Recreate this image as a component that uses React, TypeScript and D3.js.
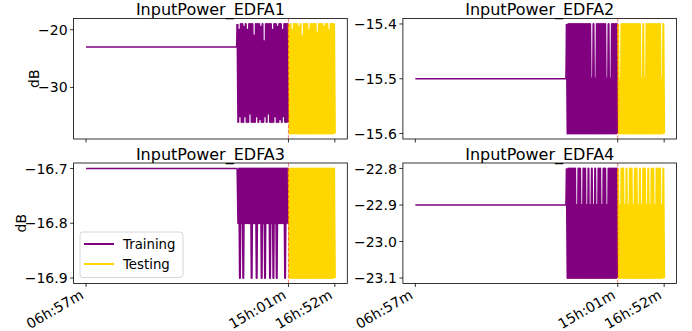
import React from 'react';
import * as d3 from 'd3';

// ---------------- data ----------------
const titles = ['InputPower_EDFA1', 'InputPower_EDFA2', 'InputPower_EDFA3', 'InputPower_EDFA4'];
const xTickTimes = [0, 484, 595]; // minutes after 06h:57m
const xTickLabels = ['06h:57m', '15h:01m', '16h:52m'];
const splitTime = 484;
const sparseTimes = [0, 60, 120, 180, 240, 300, 360];
const trainStart = 362;
const testStart = 485;
const sampleMinutes = 2;

const edfa1Sparse = [-23, -23, -23, -23, -23, -23, -23];
const edfa1Train = [
  -19, -36, -20, -35, -19, -36, -19, -36, -19.5, -35,
  -19, -36, -20, -36, -19, -34.5, -19, -36, -19, -36,
  -21, -36, -19, -35, -19, -36, -19, -35.5, -19.5, -36,
  -19, -36, -22, -35, -19, -36, -19, -34.5, -19, -36,
  -19, -36, -20, -36, -19, -35, -19, -36, -19.5, -36,
  -19, -35.5, -19, -36, -20, -35, -19, -36, -19, -36,
  -19, -36,
];
const edfa1Test = [
  -19, -38, -19, -38, -20, -38, -19, -38, -19, -38,
  -19, -38, -19.5, -38, -19, -38, -21, -38, -19, -38,
  -19, -38, -19, -38, -20, -38, -19, -38, -19, -38,
  -19, -38, -19, -38, -20.5, -38, -19, -38, -19, -38,
  -19, -38, -19.5, -38, -19, -38, -19, -38, -20, -38,
  -19, -38, -19, -38, -19, -38,
];

const edfa2Sparse = [-15.5, -15.5, -15.5, -15.5, -15.5, -15.5, -15.5];
const edfa2Train = [
  -15.4, -15.6, -15.4, -15.6, -15.4, -15.6, -15.4, -15.6, -15.4, -15.6,
  -15.4, -15.6, -15.4, -15.6, -15.4, -15.6, -15.4, -15.6, -15.4, -15.6,
  -15.4, -15.6, -15.4, -15.6, -15.4, -15.6, -15.4, -15.6, -15.4, -15.6,
  -15.5, -15.6, -15.4, -15.6, -15.5, -15.6, -15.4, -15.6, -15.4, -15.6,
  -15.4, -15.6, -15.4, -15.6, -15.4, -15.6, -15.4, -15.6, -15.5, -15.6,
  -15.4, -15.6, -15.5, -15.6, -15.4, -15.6, -15.4, -15.6, -15.4, -15.6,
  -15.4, -15.6,
];
const edfa2Test = [
  -15.4, -15.6, -15.5, -15.6, -15.4, -15.6, -15.4, -15.6, -15.4, -15.6,
  -15.4, -15.6, -15.4, -15.6, -15.4, -15.6, -15.4, -15.6, -15.4, -15.6,
  -15.4, -15.6, -15.4, -15.6, -15.4, -15.6, -15.4, -15.6, -15.5, -15.6,
  -15.4, -15.6, -15.5, -15.6, -15.4, -15.6, -15.4, -15.6, -15.4, -15.6,
  -15.4, -15.6, -15.4, -15.6, -15.4, -15.6, -15.4, -15.6, -15.4, -15.6,
  -15.4, -15.6, -15.5, -15.6, -15.4, -15.6,
];

const edfa3Sparse = [-16.7, -16.7, -16.7, -16.7, -16.7, -16.7, -16.7];
const edfa3Train = [
  -16.7, -16.8, -16.7, -16.9, -16.7, -16.8, -16.7, -16.9, -16.7, -16.8,
  -16.7, -16.8, -16.7, -16.8, -16.7, -16.8, -16.7, -16.9, -16.7, -16.8,
  -16.7, -16.8, -16.7, -16.9, -16.7, -16.8, -16.7, -16.8, -16.7, -16.9,
  -16.7, -16.8, -16.7, -16.9, -16.7, -16.8, -16.7, -16.8, -16.7, -16.9,
  -16.7, -16.8, -16.7, -16.9, -16.7, -16.8, -16.7, -16.9, -16.7, -16.8,
  -16.7, -16.8, -16.7, -16.8, -16.7, -16.8, -16.7, -16.9, -16.7, -16.8,
  -16.7, -16.8,
];
const edfa3Test = [
  -16.7, -16.9, -16.7, -16.9, -16.7, -16.9, -16.7, -16.9, -16.7, -16.9,
  -16.7, -16.9, -16.7, -16.9, -16.7, -16.9, -16.7, -16.9, -16.7, -16.9,
  -16.7, -16.9, -16.7, -16.9, -16.7, -16.9, -16.7, -16.9, -16.7, -16.9,
  -16.7, -16.9, -16.7, -16.9, -16.7, -16.9, -16.7, -16.9, -16.7, -16.9,
  -16.7, -16.9, -16.7, -16.9, -16.7, -16.9, -16.7, -16.9, -16.7, -16.9,
  -16.7, -16.9, -16.7, -16.9, -16.7, -16.9,
];

const edfa4Sparse = [-22.9, -22.9, -22.9, -22.9, -22.9, -22.9, -22.9];
const edfa4Train = [
  -22.8, -23.1, -22.8, -23.1, -22.8, -23.1, -22.8, -23.1, -22.8, -23.1,
  -22.8, -23.1, -22.9, -23.1, -22.8, -23.1, -22.8, -23.1, -22.9, -23.1,
  -22.8, -23.1, -22.8, -23.1, -22.9, -23.1, -22.8, -23.1, -22.9, -23.1,
  -22.8, -23.1, -22.9, -23.1, -22.8, -23.1, -22.9, -23.1, -22.8, -23.1,
  -22.8, -23.1, -22.9, -23.1, -22.8, -23.1, -22.8, -23.1, -22.9, -23.1,
  -22.8, -23.1, -22.8, -23.1, -22.8, -23.1, -22.8, -23.1, -22.8, -23.1,
  -22.8, -23.1,
];
const edfa4Test = [
  -22.8, -23.1, -22.9, -23.1, -22.8, -23.1, -22.8, -23.1, -22.9, -23.1,
  -22.8, -23.1, -22.9, -23.1, -22.8, -23.1, -22.8, -23.1, -22.9, -23.1,
  -22.8, -23.1, -22.8, -23.1, -22.9, -23.1, -22.8, -23.1, -22.9, -23.1,
  -22.8, -23.1, -22.8, -23.1, -22.9, -23.1, -22.8, -23.1, -22.9, -23.1,
  -22.8, -23.1, -22.8, -23.1, -22.9, -23.1, -22.8, -23.1, -22.8, -23.1,
  -22.8, -23.1, -22.9, -23.1, -22.8, -23.1,
];

const yTicks1 = [-30, -20];
const yTicks2 = [-15.6, -15.5, -15.4];
const yTicks3 = [-16.9, -16.8, -16.7];
const yTicks4 = [-23.1, -23.0, -22.9, -22.8];
const yTickDecimals = [0, 1, 1, 1];

const legendLabels = ['Training', 'Testing'];
const trainColor = '#800080';
const testColor = '#FFD700';

// ---------------- layout ----------------
const W = 692;
const H = 331;
const PW = 273.7;
const PH = 120.5;
const layout = [
  { x0: 73.6, y0: 18.5, ylabelX: 38.5, showX: false },
  { x0: 402.9, y0: 18.5, ylabelX: null, showX: false },
  { x0: 73.6, y0: 163, ylabelX: 25.5, showX: true },
  { x0: 402.9, y0: 163, ylabelX: null, showX: true },
];
const FONT = 'DejaVu Sans, sans-serif';

const seriesTable = [
  { sparse: edfa1Sparse, train: edfa1Train, test: edfa1Test, ticks: yTicks1 },
  { sparse: edfa2Sparse, train: edfa2Train, test: edfa2Test, ticks: yTicks2 },
  { sparse: edfa3Sparse, train: edfa3Train, test: edfa3Test, ticks: yTicks3 },
  { sparse: edfa4Sparse, train: edfa4Train, test: edfa4Test, ticks: yTicks4 },
];

function padDomain(lo: number, hi: number): [number, number] {
  const m = (hi - lo) * 0.05;
  return [lo - m, hi + m];
}

function Panel({ idx }: { idx: number }) {
  const L = layout[idx];
  const S = seriesTable[idx];
  const denseT = S.train.map((_, i) => trainStart + i * sampleMinutes);
  const trainT = [...sparseTimes, ...denseT];
  const trainV = [...S.sparse, ...S.train];
  const testT = S.test.map((_, i) => testStart + i * sampleMinutes);
  const testV = S.test;

  const allT = [...trainT, ...testT];
  const allV = [...trainV, ...testV];
  const x = d3.scaleLinear().domain(padDomain(d3.min(allT)!, d3.max(allT)!)).range([L.x0, L.x0 + PW]);
  const y = d3.scaleLinear().domain(padDomain(d3.min(allV)!, d3.max(allV)!)).range([L.y0 + PH, L.y0]);

  const line = d3.line<[number, number]>().x((d) => x(d[0])).y((d) => y(d[1]));
  const sparsePts = sparseTimes.map((t, i) => [t, S.sparse[i]] as [number, number]);
  sparsePts.push([denseT[0], S.train[0]]);
  const densePts = denseT.map((t, i) => [t, S.train[i]] as [number, number]);
  const testPts = testT.map((t, i) => [t, testV[i]] as [number, number]);
  const fmt = d3.format(`.${yTickDecimals[idx]}f`);
  const clipId = `clip${idx}`;
  const y1 = L.y0 + PH;

  return (
    <g>
      <defs>
        <clipPath id={clipId}>
          <rect x={L.x0} y={L.y0} width={PW} height={PH} />
        </clipPath>
      </defs>
      <g clipPath={`url(#${clipId})`}>
        <path d={line(sparsePts)!} fill="none" stroke={trainColor} strokeWidth={1.5} strokeLinejoin="round" />
        <path d={line(densePts)!} fill="none" stroke={trainColor} strokeWidth={2.1} strokeLinejoin="round" />
        <path d={line(testPts)!} fill="none" stroke={testColor} strokeWidth={2.1} strokeLinejoin="round" />
        <line x1={x(splitTime)} x2={x(splitTime)} y1={L.y0} y2={y1} stroke="red" strokeOpacity={0.5} strokeWidth={1} strokeDasharray="3.7,1.6" />
      </g>
      <rect x={L.x0} y={L.y0} width={PW} height={PH} fill="none" stroke="#000" strokeWidth={0.8} />
      <text x={L.x0 + PW / 2} y={L.y0 - 3.5} textAnchor="middle" fontSize={16} fontFamily={FONT} fill="#000">
        {titles[idx]}
      </text>
      {S.ticks.map((v) => (
        <g key={v}>
          <line x1={L.x0 - 3.5} x2={L.x0} y1={y(v)} y2={y(v)} stroke="#000" strokeWidth={0.8} />
          <text x={L.x0 - 6} y={y(v)} dy="0.36em" textAnchor="end" fontSize={14} fontFamily={FONT} fill="#000">
            {fmt(v).replace('-', '\u2212')}
          </text>
        </g>
      ))}
      {xTickTimes.map((t, i) => (
        <g key={t}>
          <line x1={x(t)} x2={x(t)} y1={y1} y2={y1 + 3.5} stroke="#000" strokeWidth={0.8} />
          {L.showX && (
            <text
              transform={`translate(${x(t) - 1.5},${y1 + 14.2}) rotate(-30)`}
              textAnchor="end"
              fontSize={14}
              fontFamily={FONT}
              fill="#000"
            >
              {xTickLabels[i]}
            </text>
          )}
        </g>
      ))}
      {L.ylabelX !== null && (
        <text
          transform={`translate(${L.ylabelX},${L.y0 + PH / 2}) rotate(-90)`}
          textAnchor="middle"
          fontSize={14}
          fontFamily={FONT}
          fill="#000"
        >
          dB
        </text>
      )}
      {idx === 2 && (
        <g>
          <rect x={80} y={232} width={103} height={45.5} rx={3} fill="#fff" fillOpacity={0.8} stroke="#ccc" strokeWidth={0.8} />
          {legendLabels.map((lab, i) => (
            <g key={lab}>
              <line x1={84} x2={114} y1={244 + i * 20} y2={244 + i * 20} stroke={i === 0 ? trainColor : testColor} strokeWidth={2} />
              <text x={123} y={244 + i * 20} dy="0.36em" fontSize={13.3} fontFamily={FONT} fill="#000">
                {lab}
              </text>
            </g>
          ))}
        </g>
      )}
    </g>
  );
}

export default function App() {
  return (
    <svg width={W} height={H} style={{ position: 'absolute', left: 0, top: 0, background: '#fff' }}>
      <rect width={W} height={H} fill="#fff" />
      {[0, 1, 2, 3].map((i) => (
        <Panel key={i} idx={i} />
      ))}
    </svg>
  );
}
